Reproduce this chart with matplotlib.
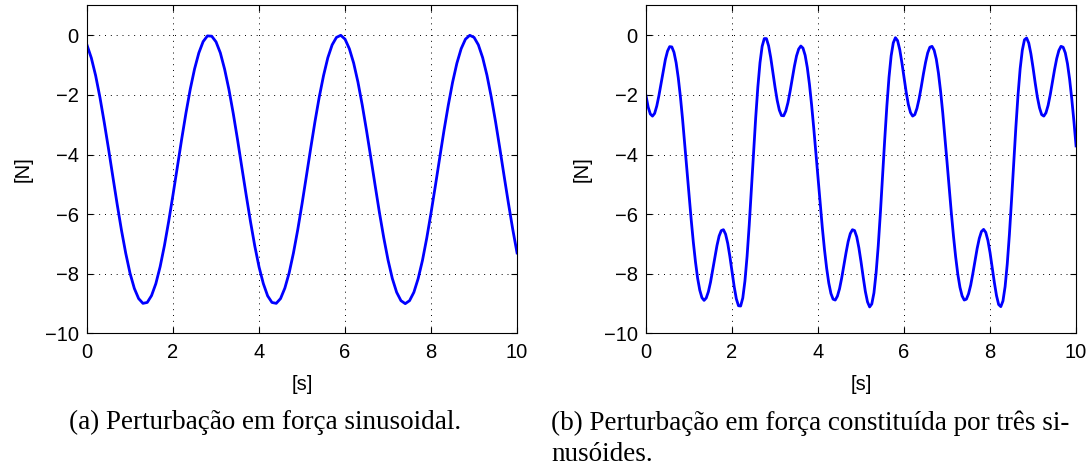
import numpy as np
import matplotlib
matplotlib.use("Agg")
import matplotlib.pyplot as plt

# sampling step of the two records [s]
dt_a = 0.1
dt_b = 0.05

# (a) sinusoidal disturbance force [N]
force_a = [-0.33, -0.76, -1.35, -2.08, -2.92, -3.81, -4.74, -5.66, -6.53, -7.31,
           -7.98, -8.49, -8.83, -8.99, -8.96, -8.73, -8.33, -7.76, -7.05, -6.23,
           -5.34, -4.42, -3.49, -2.61, -1.81, -1.13, -0.59, -0.21, -0.02, -0.03,
           -0.22, -0.59, -1.14, -1.82, -2.62, -3.50, -4.43, -5.35, -6.24, -7.06,
           -7.77, -8.33, -8.74, -8.96, -8.99, -8.83, -8.48, -7.97, -7.30, -6.52,
           -5.65, -4.73, -3.80, -2.90, -2.07, -1.35, -0.75, -0.32, -0.07, 0.00,
           -0.13, -0.45, -0.93, -1.57, -2.34, -3.20, -4.11, -5.04, -5.95, -6.79,
           -7.54, -8.16, -8.62, -8.90, -9.00, -8.90, -8.62, -8.16, -7.55, -6.80,
           -5.95, -5.05, -4.12, -3.20, -2.35, -1.58, -0.94, -0.45, -0.13, 0.00,
           -0.07, -0.32, -0.75, -1.34, -2.07, -2.90, -3.80, -4.73, -5.64, -6.51,
           -7.30]

# (b) disturbance made of three sinusoids [N]
force_b = [-2.03, -2.41, -2.64, -2.71, -2.62, -2.37, -2.02, -1.61, -1.18, -0.81,
           -0.53, -0.38, -0.39, -0.57, -0.92, -1.43, -2.07, -2.82, -3.64, -4.50,
           -5.36, -6.18, -6.94, -7.60, -8.15, -8.55, -8.80, -8.89, -8.81, -8.60,
           -8.28, -7.87, -7.45, -7.05, -6.73, -6.55, -6.52, -6.67, -6.98, -7.42,
           -7.93, -8.43, -8.84, -9.07, -9.08, -8.81, -8.24, -7.41, -6.36, -5.18,
           -3.95, -2.77, -1.74, -0.92, -0.37, -0.11, -0.11, -0.35, -0.75, -1.24,
           -1.74, -2.18, -2.51, -2.69, -2.70, -2.54, -2.26, -1.88, -1.45, -1.04,
           -0.69, -0.46, -0.36, -0.43, -0.67, -1.08, -1.64, -2.33, -3.11, -3.95,
           -4.81, -5.66, -6.46, -7.19, -7.81, -8.31, -8.66, -8.85, -8.88, -8.75,
           -8.50, -8.14, -7.72, -7.30, -6.92, -6.65, -6.52, -6.55, -6.76, -7.13,
           -7.60, -8.11, -8.59, -8.94, -9.11, -9.01, -8.64, -7.97, -7.06, -5.95,
           -4.73, -3.51, -2.38, -1.41, -0.69, -0.25, -0.08, -0.18, -0.48, -0.92,
           -1.42, -1.91, -2.32, -2.59, -2.71, -2.66, -2.45, -2.13, -1.73, -1.30,
           -0.91, -0.59, -0.40, -0.37, -0.50, -0.80, -1.27, -1.88, -2.60, -3.41,
           -4.26, -5.12, -5.96, -6.74, -7.43, -8.01, -8.45, -8.74, -8.88, -8.85,
           -8.67, -8.38, -7.99, -7.57, -7.15, -6.81, -6.58, -6.51, -6.61, -6.88,
           -7.29, -7.78, -8.29, -8.73, -9.03, -9.10, -8.91, -8.43, -7.67, -6.68,
           -5.52, -4.29, -3.09, -2.01, -1.12, -0.50, -0.15, -0.09, -0.26, -0.62,
           -1.09, -1.60, -2.07, -2.43, -2.66, -2.71, -2.60, -2.35, -1.99, -1.57,
           -1.15, -0.78, -0.51, -0.37, -0.40, -0.59, -0.95, -1.47, -2.13, -2.88,
           -3.71]

xticks = [0, 2, 4, 6, 8, 10]
yticks = [-10, -8, -6, -4, -2, 0]
caption_a = '(a) Perturbação em força sinusoidal.'
caption_b = ['(b) Perturbação em força constituída por três si-', 'nusóides.']

t_a = np.arange(len(force_a)) * dt_a
t_b = np.arange(len(force_b)) * dt_b

plt.rcParams['font.family'] = ['Liberation Sans']
fig = plt.figure(figsize=(10.92, 4.73), dpi=100)
ax1 = fig.add_axes([0.0797, 0.295, 0.3938, 0.6934])
ax2 = fig.add_axes([0.5916, 0.295, 0.3938, 0.6934])

for ax, t, y in [(ax1, t_a, force_a), (ax2, t_b, force_b)]:
    ax.plot(t, y, color='b', lw=2)
    ax.set_xlim(0, 10)
    ax.set_ylim(-10, 1)
    ax.set_xticks(xticks)
    ax.set_yticks(yticks)
    ax.grid(True, ls=(0, (1, 5)), color='k', lw=0.7)
    ax.tick_params(direction='in', top=True, right=True, labelsize=14.5, length=4)
    ax.tick_params(axis='x', pad=7)
    ax.tick_params(axis='y', pad=6)
    ax.set_xlabel('[s]', fontsize=14.5)
    ax.set_ylabel('[N]', fontsize=14.5)
    ax.xaxis.set_label_coords(0.5, -0.127)
    ax.yaxis.set_label_coords(-0.127, 0.5)

serif = ['Liberation Serif', 'DejaVu Serif']
fig.text(0.243, 0.106, caption_a, family=serif, fontsize=19.5, ha='center', va='center')
fig.text(0.5046, 0.106, caption_b[0], family=serif, fontsize=19.5, ha='left', va='center')
fig.text(0.5046, 0.040, caption_b[1], family=serif, fontsize=19.5, ha='left', va='center')

fig.savefig("out.png")
